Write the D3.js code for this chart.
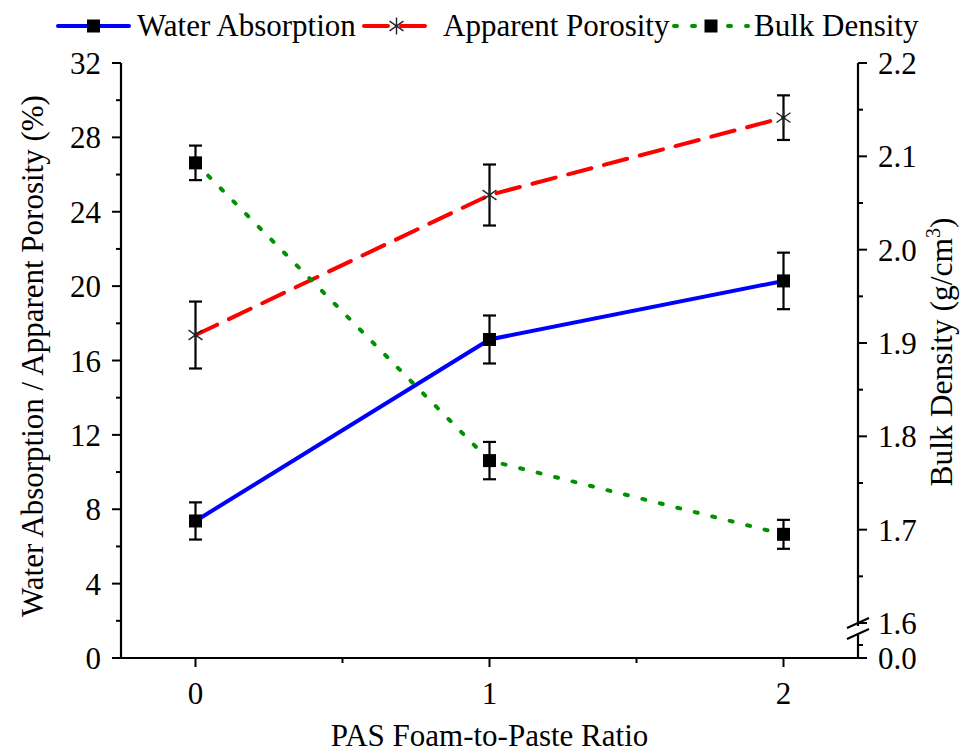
<!DOCTYPE html>
<html>
<head>
<meta charset="utf-8">
<script src="https://cdn.jsdelivr.net/npm/d3@7.9.0/dist/d3.min.js"></script>
<style>
  body { margin: 0; background: #fff; }
  svg { display: block; font-family: "Liberation Serif", "Times New Roman", serif; }
</style>
</head>
<body>
<svg id="chart" width="965" height="753"></svg>
<script>
// data
const ratios = [0, 1, 2];
const waterAbsorption = [7.37, 17.13, 20.28];
const waterAbsorptionErr = [1.0, 1.29, 1.52];
const apparentPorosity = [17.37, 24.9, 29.06];
const apparentPorosityErr = [1.8, 1.64, 1.2];
const bulkDensity = [2.093, 1.774, 1.695];
const bulkDensityErr = [0.0185, 0.02, 0.0155];

const xTicks = [0, 1, 2];
const xMinor = [0.5, 1.5];
const leftTicks = [0, 4, 8, 12, 16, 20, 24, 28, 32];
const leftMinor = [2, 6, 10, 14, 18, 22, 26, 30];
const rightTicks = [1.6, 1.7, 1.8, 1.9, 2.0, 2.1, 2.2];
const rightMinor = [1.65, 1.75, 1.85, 1.95, 2.05, 2.15];

const svg = d3.select('#chart');
const fs = 31;

const plotL = 121, plotR = 858, plotT = 63, plotB = 658;

const x = d3.scaleLinear().domain([-0.25, 2.25]).range([plotL + 1, plotR - 1]);
const y = d3.scaleLinear().domain([0, 32]).range([plotB, plotT]);
// right axis with a break: upper segment 1.6-2.2, lower stub starting at 0
const yR = d3.scaleLinear().domain([1.6, 2.2]).range([623, plotT]);
const yRlow = d3.scaleLinear().domain([0, 0.1]).range([plotB, 632]);

const g = svg.append('g');

// axes lines
g.append('line').attr('x1', plotL).attr('x2', plotR).attr('y1', plotB).attr('y2', plotB)
  .attr('stroke', '#000').attr('stroke-width', 2.2);
g.append('line').attr('x1', plotL).attr('x2', plotL).attr('y1', plotT).attr('y2', plotB + 1)
  .attr('stroke', '#000').attr('stroke-width', 2.2);
g.append('line').attr('x1', plotR).attr('x2', plotR).attr('y1', plotT).attr('y2', 626)
  .attr('stroke', '#000').attr('stroke-width', 2.2);
g.append('line').attr('x1', plotR).attr('x2', plotR).attr('y1', 635).attr('y2', plotB + 1)
  .attr('stroke', '#000').attr('stroke-width', 2.2);

// break marks
[628, 639].forEach(yy => {
  g.append('line').attr('x1', plotR - 11).attr('y1', yy)
    .attr('x2', plotR + 11).attr('y2', yy - 10)
    .attr('stroke', '#000').attr('stroke-width', 2);
});

// x ticks
xTicks.forEach(v => {
  g.append('line').attr('x1', x(v)).attr('x2', x(v)).attr('y1', plotB).attr('y2', plotB + 9)
    .attr('stroke', '#000').attr('stroke-width', 2);
  g.append('text').attr('x', x(v)).attr('y', 704).attr('text-anchor', 'middle')
    .attr('font-size', fs).text(v);
});
xMinor.forEach(v => {
  g.append('line').attr('x1', x(v)).attr('x2', x(v)).attr('y1', plotB).attr('y2', plotB + 5)
    .attr('stroke', '#000').attr('stroke-width', 2);
});

// left ticks
leftTicks.forEach(v => {
  g.append('line').attr('x1', plotL - 9).attr('x2', plotL).attr('y1', y(v)).attr('y2', y(v))
    .attr('stroke', '#000').attr('stroke-width', 2);
  g.append('text').attr('x', 101).attr('y', y(v) + 11).attr('text-anchor', 'end')
    .attr('font-size', fs).text(v);
});
leftMinor.forEach(v => {
  g.append('line').attr('x1', plotL - 5).attr('x2', plotL).attr('y1', y(v)).attr('y2', y(v))
    .attr('stroke', '#000').attr('stroke-width', 2);
});

// right ticks
rightTicks.forEach(v => {
  g.append('line').attr('x1', plotR).attr('x2', plotR + 9).attr('y1', yR(v)).attr('y2', yR(v))
    .attr('stroke', '#000').attr('stroke-width', 2);
  g.append('text').attr('x', 878).attr('y', yR(v) + 11)
    .attr('font-size', fs).text(v.toFixed(1));
});
rightMinor.forEach(v => {
  g.append('line').attr('x1', plotR).attr('x2', plotR + 5).attr('y1', yR(v)).attr('y2', yR(v))
    .attr('stroke', '#000').attr('stroke-width', 2);
});
g.append('line').attr('x1', plotR).attr('x2', plotR + 9).attr('y1', yRlow(0)).attr('y2', yRlow(0))
  .attr('stroke', '#000').attr('stroke-width', 2);
g.append('line').attr('x1', plotR).attr('x2', plotR + 5).attr('y1', yRlow(0.05)).attr('y2', yRlow(0.05))
  .attr('stroke', '#000').attr('stroke-width', 2);
g.append('text').attr('x', 878).attr('y', yRlow(0) + 11).attr('font-size', fs).text('0.0');

// axis titles
g.append('text').attr('x', (plotL + plotR) / 2).attr('y', 746).attr('text-anchor', 'middle')
  .attr('font-size', fs).text('PAS Foam-to-Paste Ratio');
g.append('text').attr('transform', 'translate(43,356) rotate(-90)')
  .attr('text-anchor', 'middle').attr('font-size', fs)
  .text('Water Absorption / Apparent Porosity (%)');
const rt = g.append('text').attr('transform', 'translate(952,352) rotate(-90)')
  .attr('text-anchor', 'middle').attr('font-size', 31.5);
rt.append('tspan').text('Bulk Density (g/cm');
rt.append('tspan').attr('font-size', 20).attr('dy', -12).text('3');
rt.append('tspan').attr('dy', 12).text(')');

// series
const series = [
  { name: 'Water Absorption', vals: waterAbsorption, err: waterAbsorptionErr, sy: y,
    color: '#0000ff', dash: null, marker: 'square', lx: [58, 129], tx: 137 },
  { name: 'Apparent Porosity', vals: apparentPorosity, err: apparentPorosityErr, sy: y,
    color: '#ff0000', dash: '24,13', marker: 'star', lx: [364, 429], tx: 443 },
  { name: 'Bulk Density', vals: bulkDensity, err: bulkDensityErr, sy: yR,
    color: '#009000', dash: '3,15', marker: 'square', lx: [674, 748], tx: 754 }
];

const line = (sy) => d3.line().x((d, i) => x(ratios[i])).y(d => sy(d));

series.forEach(s => {
  svg.append('path').datum(s.vals)
    .attr('d', line(s.sy))
    .attr('fill', 'none').attr('stroke', s.color).attr('stroke-width', 4)
    .attr('stroke-linecap', 'round')
    .attr('stroke-dasharray', s.dash);
});

function drawMarker(sel, type, cx, cy) {
  if (type === 'square') {
    sel.append('rect').attr('x', cx - 6.5).attr('y', cy - 6.5).attr('width', 13).attr('height', 13)
      .attr('fill', '#000');
  } else {
    const r = 8.5;
    [90, 35, -35].forEach(a => {
      const rad = a * Math.PI / 180;
      sel.append('line')
        .attr('x1', cx - r * Math.cos(rad)).attr('y1', cy - r * Math.sin(rad))
        .attr('x2', cx + r * Math.cos(rad)).attr('y2', cy + r * Math.sin(rad))
        .attr('stroke', '#222').attr('stroke-width', 1.4);
    });
  }
}

series.forEach(s => {
  s.vals.forEach((v, i) => {
    const cx = x(ratios[i]);
    const y1 = s.sy(v + s.err[i]), y2 = s.sy(v - s.err[i]);
    svg.append('line').attr('x1', cx).attr('x2', cx).attr('y1', y1).attr('y2', y2)
      .attr('stroke', '#000').attr('stroke-width', 2.2);
    [y1, y2].forEach(yy => {
      svg.append('line').attr('x1', cx - 6.5).attr('x2', cx + 6.5).attr('y1', yy).attr('y2', yy)
        .attr('stroke', '#000').attr('stroke-width', 2.2);
    });
    drawMarker(svg, s.marker, cx, s.sy(v));
  });
});

// legend
const lg = svg.append('g');
series.forEach(s => {
  lg.append('line').attr('x1', s.lx[0]).attr('x2', s.lx[1]).attr('y1', 26).attr('y2', 26)
    .attr('stroke', s.color).attr('stroke-width', 4)
    .attr('stroke-linecap', 'round')
    .attr('stroke-dasharray', s.dash);
  drawMarker(lg, s.marker, (s.lx[0] + s.lx[1]) / 2, 26);
  lg.append('text').attr('x', s.tx).attr('y', 36).attr('font-size', fs).text(s.name);
});
</script>
</body>
</html>
